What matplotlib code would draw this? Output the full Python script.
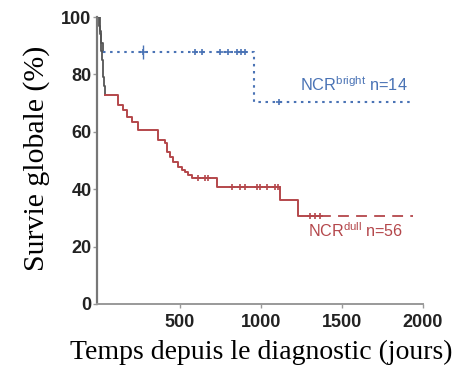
import matplotlib
matplotlib.use("Agg")
import matplotlib.pyplot as plt

plt.rcParams['mathtext.fontset'] = 'custom'
plt.rcParams['mathtext.rm'] = 'Liberation Sans'

# ---- data ----
# NCR bright (blue), n=14
bright_t = [0, 8, 15, 22, 957, 1938]
bright_s = [100, 95, 91, 87.8, 70.4, 70.4]
bright_cens_t = [272, 593, 636, 747, 796, 852, 875, 900, 1111]
bright_cens_s = [87.8, 87.8, 87.8, 87.8, 87.8, 87.8, 87.8, 87.8, 70.4]

# NCR dull (red), n=56 ; early part drawn in grey as in the reference
dull_early_t = [0, 3, 6, 10, 14, 18, 22, 27, 32, 37]
dull_early_s = [100, 97, 94, 91, 88, 85, 82, 79, 76, 72.8]
dull_t = [37, 117, 148, 173, 204, 241, 364, 407, 420, 438, 457, 488, 512, 531,
          549, 574, 728, 1117, 1228, 1364]
dull_s = [72.8, 69.3, 67.6, 65.0, 63.4, 60.6, 57.0, 56.0, 53.0, 51.2, 49.5, 47.7,
          46.7, 46.0, 45.0, 43.9, 40.8, 36.2, 30.7, 30.7]
dull_tail_t = [1364, 1938]
dull_tail_s = [30.7, 30.7]
dull_cens_t = [611, 654, 673, 821, 870, 901, 975, 994, 1037, 1086, 1105, 1302, 1333, 1364]
dull_cens_s = [43.9, 43.9, 43.9, 40.8, 40.8, 40.8, 40.8, 40.8, 40.8, 40.8, 40.8,
               30.7, 30.7, 30.7]

xticks = [500, 1000, 1500, 2000]
yticks = [0, 20, 40, 60, 80, 100]

label_bright = r"NCR$^{\mathrm{bright}}$ n=14"
label_dull = r"NCR$^{\mathrm{dull}}$ n=56"

BLUE = '#4a73b5'
RED = '#b4474b'
GREY = '#555555'

fig = plt.figure(figsize=(4.58, 3.67), dpi=100)
ax = fig.add_axes([97/458, 1-304/367, (423-97)/458, (304-17)/367])

# blue curve
ax.step(bright_t[:4], bright_s[:4], where='post', color=GREY, lw=1.3)
ax.step(bright_t[3:], bright_s[3:], where='post', color=BLUE, lw=1.5,
        linestyle=(0, (1.2, 2.2)))
ax.plot(bright_cens_t, bright_cens_s, linestyle='none', marker='+',
        color=BLUE, ms=5, mew=1.2)
ax.plot(bright_cens_t[:1], bright_cens_s[:1], linestyle='none', marker='|',
        color=BLUE, ms=10, mew=1.0)

# red curve
ax.step(dull_early_t, dull_early_s, where='post', color=GREY, lw=1.3)
ax.step(dull_t, dull_s, where='post', color=RED, lw=1.4)
ax.plot(dull_tail_t, dull_tail_s, color=RED, lw=1.3, linestyle=(0, (6, 4)))
ax.plot(dull_cens_t, dull_cens_s, linestyle='none', marker='+',
        color=RED, ms=5, mew=1.2)

ax.text(1241, 76.3, label_bright, color=BLUE, fontsize=11.8,
        family='Liberation Sans', va='center', ha='left')
ax.text(1290, 25.4, label_dull, color=RED, fontsize=11.6,
        family='Liberation Sans', va='center', ha='left')

ax.set_xlim(-12, 2000)
ax.set_ylim(0, 100)
ax.set_xticks(xticks)
ax.set_yticks(yticks)
for s in ['top', 'right']:
    ax.spines[s].set_visible(False)
ax.spines['left'].set_color('#777777')
ax.spines['left'].set_linewidth(1.6)
ax.spines['bottom'].set_color('#999999')
ax.spines['bottom'].set_linewidth(1.4)
ax.tick_params(axis='both', colors='#999999', length=3, width=1,
               labelcolor='#222222')
ax.tick_params(axis='y', pad=1)
ax.tick_params(axis='x', pad=4)
for lab in ax.get_xticklabels() + ax.get_yticklabels():
    lab.set_fontweight('bold')
    lab.set_family('Liberation Sans')
    lab.set_fontsize(13)

fig.text(37/458, 1-158/367, "Survie globale (%)", rotation=90,
         family='Liberation Serif', fontsize=21.5, ha='center', va='center')
fig.text(261/458, 1-352/367, "Temps depuis le diagnostic (jours)",
         family='Liberation Serif', fontsize=20, ha='center', va='center')

fig.savefig('out.png', dpi=100)
